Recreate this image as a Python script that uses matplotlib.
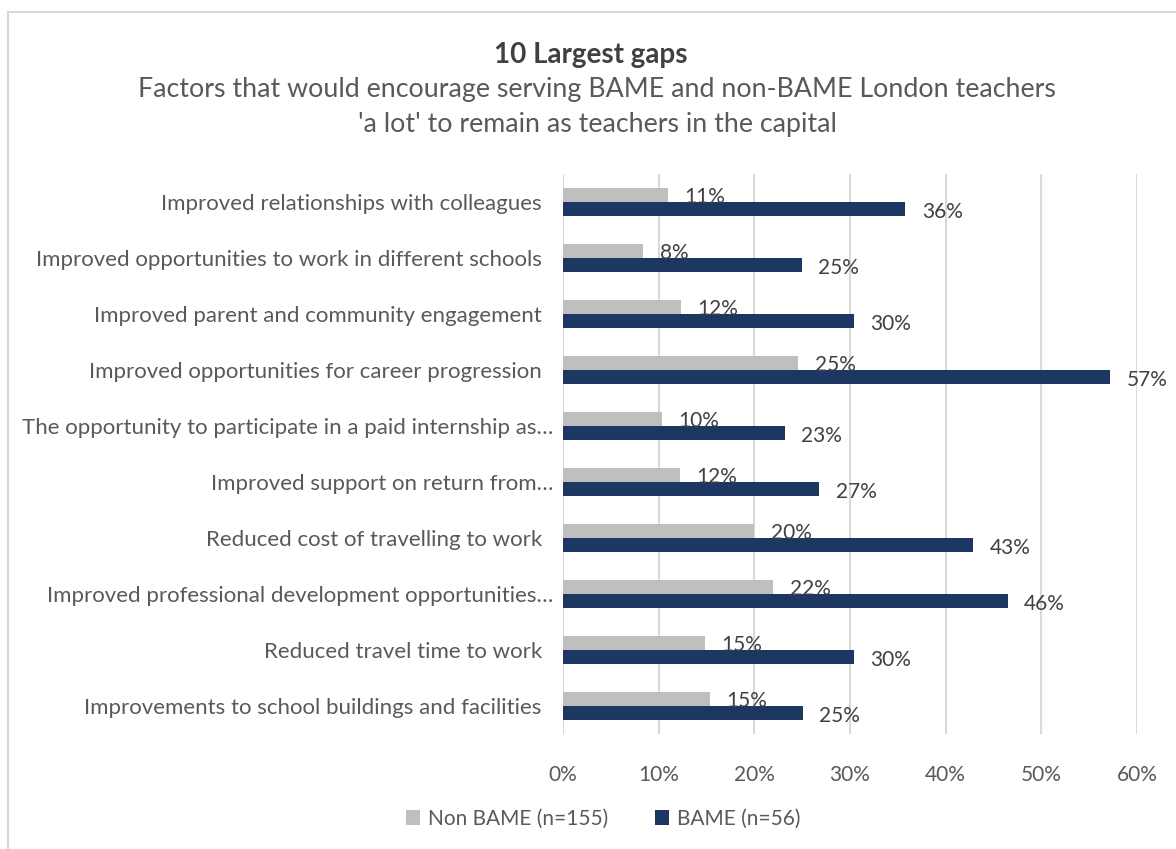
import matplotlib.pyplot as plt
from matplotlib.patches import Rectangle
import numpy as np

plt.rcParams['font.family'] = ['Lato', 'DejaVu Sans']

# categories, top to bottom as in the chart
categories = [
    "Improved relationships with colleagues  ",
    "Improved opportunities to work in different schools  ",
    "Improved parent and community engagement  ",
    "Improved opportunities for career progression  ",
    "The opportunity to participate in a paid internship as…",
    "Improved support on return from…",
    "Reduced cost of travelling to work  ",
    "Improved professional development opportunities…",
    "Reduced travel time to work  ",
    "Improvements to school buildings and facilities  ",
]
non_bame = [11.0, 8.4, 12.3, 24.6, 10.3, 12.2, 20.0, 22.0, 14.8, 15.4]
bame = [35.8, 25.0, 30.4, 57.2, 23.2, 26.8, 42.9, 46.5, 30.4, 25.1]
series_names = ["Non BAME (n=155)", "BAME (n=56)"]
xticks = [0, 10, 20, 30, 40, 50, 60]

grey = '#BFBFBF'
navy = '#1C3762'
txt = '#595959'

fig = plt.figure(figsize=(11.76, 8.49), dpi=100)
fig.patches.append(Rectangle((8 / 1176, -0.05), 1.2, 1.05 - 12 / 849,
                             transform=fig.transFigure, fill=False,
                             edgecolor='#D9D9D9', linewidth=1.5))

ax = fig.add_axes([563 / 1176, 1 - 734 / 849, 574 / 1176, 560 / 849])

y = np.arange(len(categories))
h = 0.25
ax.barh(y - h / 2, non_bame, height=h, color=grey, zorder=3, label=series_names[0])
ax.barh(y + h / 2, bame, height=h, color=navy, zorder=3, label=series_names[1])

for i in range(len(categories)):
    ax.text(non_bame[i] + 1.7, y[i] - h / 2 + 0.04, f"{round(non_bame[i])}%",
            va='center', ha='left', fontsize=15, color='#404040', zorder=4)
    ax.text(bame[i] + 1.7, y[i] + h / 2 + 0.06, f"{round(bame[i])}%",
            va='center', ha='left', fontsize=15, color='#404040', zorder=4)

ax.set_ylim(len(categories) - 0.5, -0.5)
ax.set_xlim(0, 60)
ax.set_yticks(y)
ax.set_yticklabels(categories, fontsize=16, color=txt)
ax.set_xticks(xticks)
ax.set_xticklabels([f"{v}%" for v in xticks], fontsize=15, color=txt)
ax.tick_params(axis='y', length=0, pad=7)
ax.tick_params(axis='x', length=0, pad=22)
ax.grid(axis='x', color='#D9D9D9', linewidth=1.5, zorder=0)
for s in ax.spines.values():
    s.set_visible(False)
ax.axvline(0, color='#D9D9D9', linewidth=1.5, zorder=1)

fig.text(0.502, 1 - 63 / 849, "10 Largest gaps", ha='center', va='baseline',
         fontsize=20, fontweight='bold', color='#404040')
fig.text(0.508, 1 - 97 / 849,
         "Factors that would encourage serving BAME and non-BAME London teachers",
         ha='center', va='baseline', fontsize=19.3, color=txt)
fig.text(0.508, 1 - 132 / 849,
         "'a lot' to remain as teachers in the capital",
         ha='center', va='baseline', fontsize=19.3, color=txt)

fig.legend(loc='center', bbox_to_anchor=(0.513, 1 - 819 / 849), ncol=2,
           frameon=False, fontsize=15, handlelength=0.7, handleheight=0.7,
           columnspacing=2.2, handletextpad=0.4, labelcolor=txt)

fig.savefig('out.png', dpi=100)
